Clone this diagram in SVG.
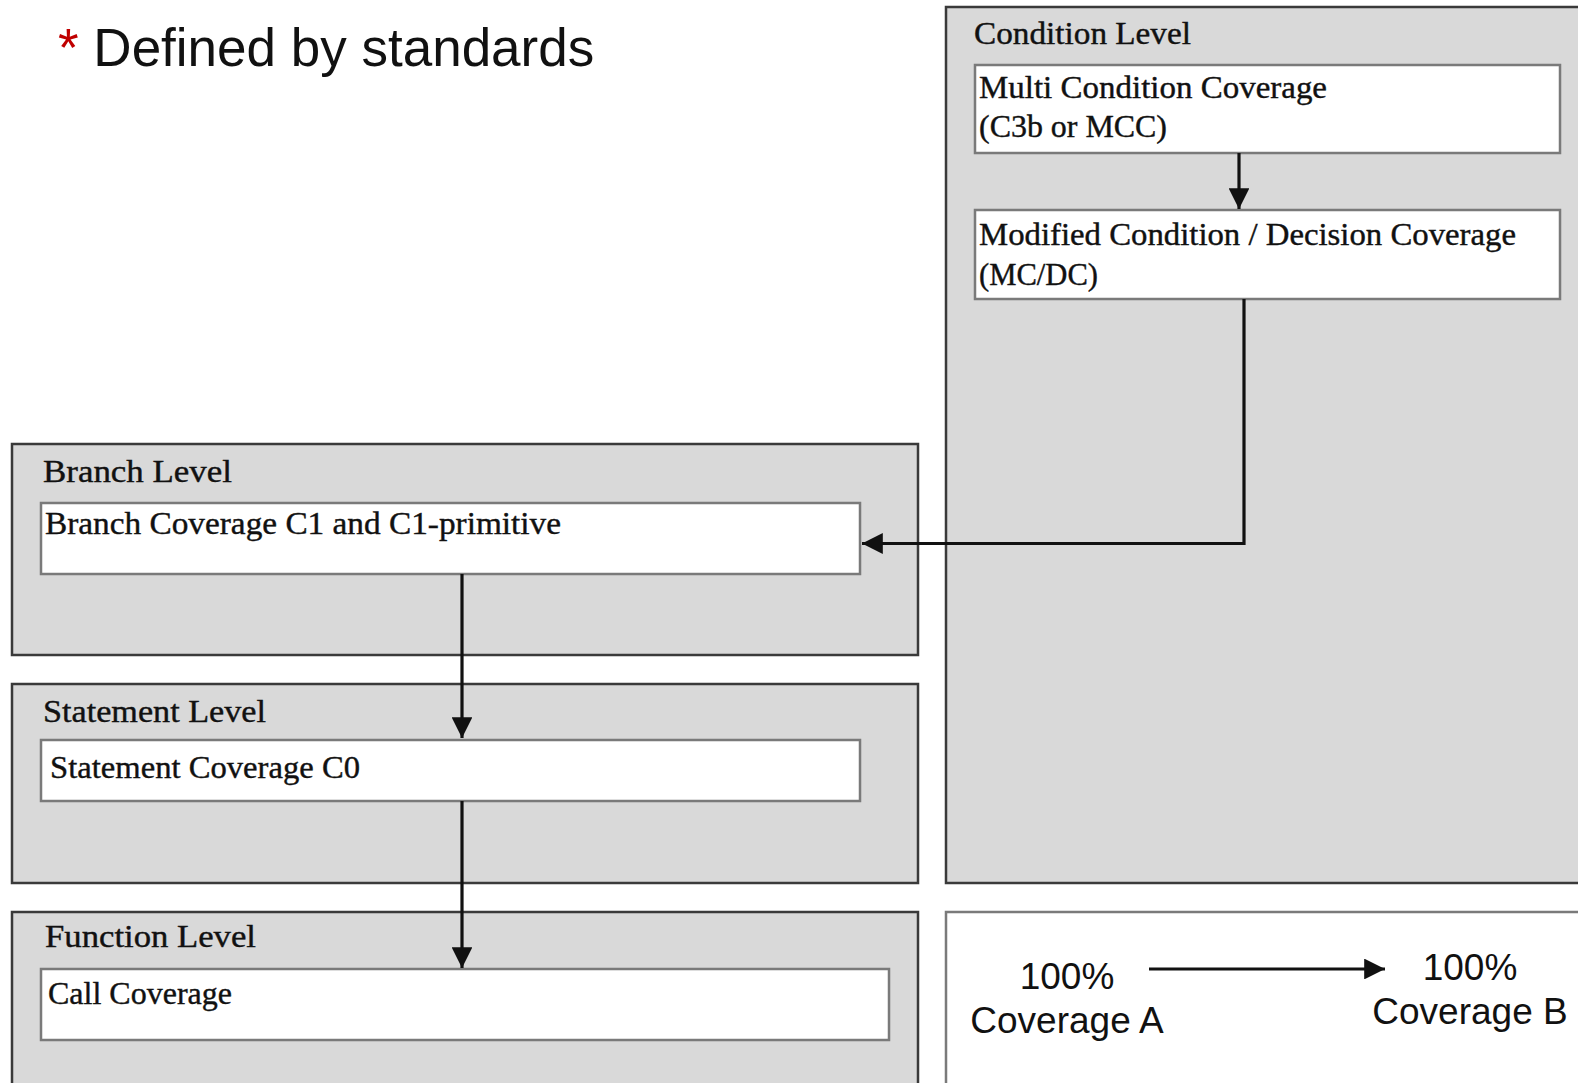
<svg xmlns="http://www.w3.org/2000/svg" width="1578" height="1083" viewBox="0 0 1578 1083">
  <style>
    .level { fill: #d9d9d9; stroke: #3a3a3a; stroke-width: 2.5; }
    .item { fill: #ffffff; stroke: #7a7a7a; stroke-width: 2.5; }
    .legend { fill: #ffffff; stroke: #7a7a7a; stroke-width: 2.5; }
    .lbl { font-family: "Liberation Serif", "DejaVu Serif", serif; font-size: 31px; fill: #111; stroke: #111; stroke-width: 0.4; }
    .txt { font-family: "Liberation Serif", "DejaVu Serif", serif; font-size: 32px; fill: #111; stroke: #111; stroke-width: 0.4; }
    .sans { font-family: "Liberation Sans", Arial, sans-serif; fill: #111; }
    .conn { fill: none; stroke: #111; stroke-width: 3.2; }
  </style>
  <defs>
    <marker id="arrow" viewBox="0 0 10 10" refX="10" refY="5" markerWidth="9" markerHeight="6.5" markerUnits="strokeWidth" orient="auto">
      <path d="M0,0 L10,5 L0,10 Z" fill="#111"/>
    </marker>
  </defs>

  <rect width="1578" height="1083" fill="#ffffff"/>

  <!-- heading note -->
  <g id="note">
    <text class="sans" x="58" y="66" font-size="53"><tspan fill="#c00000">*</tspan> Defined by standards</text>
  </g>

  <!-- condition level -->
  <g id="condition-level">
    <rect class="level" x="946" y="7" width="650" height="876"/>
    <text class="lbl" x="974" y="44" textLength="217" lengthAdjust="spacingAndGlyphs">Condition Level</text>
  </g>
  <g id="mcc">
    <rect class="item" x="975" y="65" width="585" height="88"/>
    <text class="txt" x="979" y="98" textLength="348" lengthAdjust="spacingAndGlyphs">Multi Condition Coverage</text>
    <text class="txt" x="979" y="137" textLength="188" lengthAdjust="spacingAndGlyphs">(C3b or MCC)</text>
  </g>
  <g id="mcdc">
    <rect class="item" x="975" y="210" width="585" height="89"/>
    <text class="txt" x="979" y="245" textLength="537" lengthAdjust="spacingAndGlyphs">Modified Condition / Decision Coverage</text>
    <text class="txt" x="979" y="285" textLength="119" lengthAdjust="spacingAndGlyphs">(MC/DC)</text>
  </g>

  <!-- branch level -->
  <g id="branch-level">
    <rect class="level" x="12" y="444" width="906" height="211"/>
    <text class="lbl" x="43" y="482" textLength="189" lengthAdjust="spacingAndGlyphs">Branch Level</text>
  </g>
  <g id="branch">
    <rect class="item" x="41" y="503" width="819" height="71"/>
    <text class="txt" x="45" y="534" textLength="516" lengthAdjust="spacingAndGlyphs">Branch Coverage C1 and C1-primitive</text>
  </g>

  <!-- statement level -->
  <g id="statement-level">
    <rect class="level" x="12" y="684" width="906" height="199"/>
    <text class="lbl" x="43" y="722" textLength="223" lengthAdjust="spacingAndGlyphs">Statement Level</text>
  </g>
  <g id="statement">
    <rect class="item" x="41" y="740" width="819" height="61"/>
    <text class="txt" x="50" y="778" textLength="310" lengthAdjust="spacingAndGlyphs">Statement Coverage C0</text>
  </g>

  <!-- function level -->
  <g id="function-level">
    <rect class="level" x="12" y="912" width="906" height="190"/>
    <text class="lbl" x="45" y="947" textLength="211" lengthAdjust="spacingAndGlyphs">Function Level</text>
  </g>
  <g id="call">
    <rect class="item" x="41" y="969" width="848" height="71"/>
    <text class="txt" x="48" y="1004" textLength="184" lengthAdjust="spacingAndGlyphs">Call Coverage</text>
  </g>

  <!-- legend -->
  <g id="legend">
    <rect class="legend" x="946" y="912" width="650" height="190"/>
    <text class="sans" x="1067" y="989" font-size="37" text-anchor="middle">100%</text>
    <text class="sans" x="1067" y="1033" font-size="37" text-anchor="middle">Coverage A</text>
    <text class="sans" x="1470" y="980" font-size="37" text-anchor="middle">100%</text>
    <text class="sans" x="1470" y="1024" font-size="37" text-anchor="middle">Coverage B</text>
  </g>

  <!-- connectors -->
  <g id="connectors">
    <path class="conn" d="M1239,153 L1239,209" marker-end="url(#arrow)"/>
    <path class="conn" d="M1244,299 L1244,543.5 L862,543.5" marker-end="url(#arrow)"/>
    <path class="conn" d="M462,574 L462,738" marker-end="url(#arrow)"/>
    <path class="conn" d="M462,801 L462,968" marker-end="url(#arrow)"/>
    <path class="conn" d="M1149,969 L1385,969" marker-end="url(#arrow)"/>
  </g>
</svg>
